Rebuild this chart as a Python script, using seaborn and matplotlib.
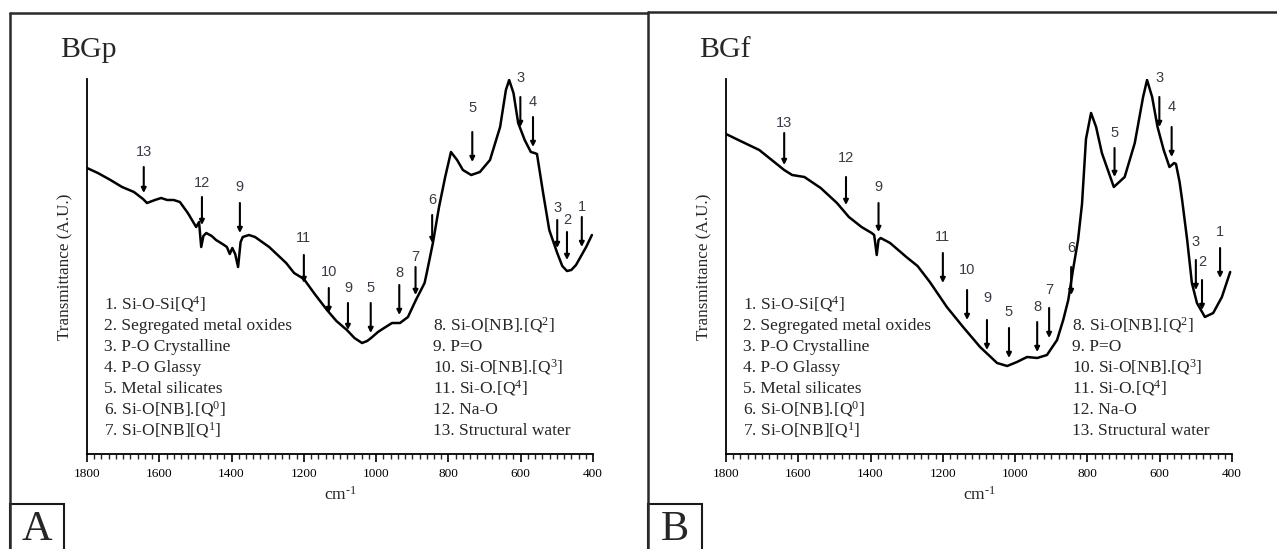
import numpy as np
import pandas as pd
import matplotlib
matplotlib.use("Agg")
import matplotlib.pyplot as plt
import seaborn as sns
from matplotlib.lines import Line2D
from matplotlib.patches import Rectangle

# ---------------- data ----------------
# Panel A (BGp) spectrum: wavenumber (cm-1) and transmittance (A.U.)
bgp_wn = [1800, 1770, 1735, 1703, 1670, 1645, 1634, 1612, 1595, 1578, 1560, 1543, 1521, 1498,
          1490, 1484, 1478, 1470, 1455, 1443, 1425, 1413, 1405, 1398, 1390, 1382, 1375, 1369,
          1352, 1335, 1296, 1249, 1227, 1200, 1170, 1136, 1110, 1081, 1060, 1039, 1025, 1014,
          995, 978, 956, 934, 912, 890, 866, 860, 843, 826, 809, 793, 776, 760, 737, 713, 685,
          657, 641, 632, 620, 607, 589, 572, 562, 555, 538, 521, 499, 485, 472, 460, 447, 419, 403]
bgp_t = [286, 281, 274, 267, 262, 255, 251, 254, 256, 254, 254, 252, 241, 227,
         232, 207, 218, 221, 218, 214, 210, 207, 200, 206, 200, 187, 212, 217,
         219, 217, 207, 191, 181, 175, 160, 144, 133, 124, 116, 111, 113, 116,
         122, 126, 131, 131, 137, 154, 171, 181, 211, 247, 277, 302, 294, 284, 279, 282, 294,
         327, 364, 374, 361, 331, 314, 302, 301, 300, 261, 224, 201, 188, 183, 184, 189, 207, 219]

# Panel B (BGf) spectrum
bgf_wn = [1800, 1760, 1708, 1670, 1639, 1617, 1583, 1538, 1493, 1460, 1425, 1397, 1390, 1383,
          1378, 1372, 1346, 1301, 1270, 1236, 1189, 1144, 1097, 1050, 1022, 995, 967, 939,
          912, 884, 867, 853, 840, 826, 815, 804, 790, 776, 760, 727, 697, 669, 646, 635, 621,
          606, 589, 573, 560, 555, 545, 538, 524, 511, 497, 475, 452, 428, 405]
bgf_t = [320, 313, 304, 293, 284, 279, 277, 266, 251, 237, 227, 221, 219, 199,
         214, 216, 211, 197, 188, 172, 147, 127, 107, 91, 88, 92, 97, 96,
         99, 114, 134, 154, 184, 214, 250, 315, 341, 327, 301, 267, 277, 311, 357, 374, 357,
         327, 304, 287, 291, 290, 272, 254, 214, 171, 151, 137, 141, 157, 182]

# Band assignment arrows: label, wavenumber, arrow top, arrow tip, label height (A.U.)
bgp_arrow_lbl = ["13", "12", "9", "11", "10", "9", "5", "8", "7", "6", "5", "3", "4", "3", "2", "1"]
bgp_arrow_wn = [1643, 1482, 1377, 1200, 1131, 1078, 1015, 936, 891, 845, 734, 601, 566, 499, 472, 431]
bgp_arrow_top = [287, 257, 251, 199, 166, 151, 151, 169, 187, 239, 322, 357, 337, 234, 222, 237]
bgp_arrow_tip = [261, 229, 221, 171, 141, 124, 121, 139, 159, 211, 292, 327, 307, 206, 194, 207]
bgp_arrow_ly = [302, 271, 267, 216, 182, 166, 166, 181, 197, 254, 346, 376, 352, 246, 234, 247]

bgf_arrow_lbl = ["13", "12", "9", "11", "10", "9", "5", "8", "7", "6", "5", "3", "4", "3", "2", "1"]
bgf_arrow_wn = [1639, 1468, 1378, 1200, 1133, 1078, 1017, 939, 906, 845, 725, 601, 567, 500, 483, 433]
bgf_arrow_top = [321, 277, 251, 201, 164, 134, 126, 132, 146, 187, 306, 357, 327, 194, 174, 206]
bgf_arrow_tip = [289, 249, 222, 171, 134, 104, 96, 102, 116, 159, 277, 327, 297, 164, 144, 176]
bgf_arrow_ly = [331, 296, 267, 217, 184, 156, 142, 147, 164, 206, 321, 376, 347, 212, 192, 222]

legend_left = ["1. Si-O-Si[Q$^{4}$]", "2. Segregated metal oxides", "3. P-O Crystalline",
               "4. P-O Glassy", "5. Metal silicates", "6. Si-O[NB].[Q$^{0}$]", "7. Si-O[NB][Q$^{1}$]"]
legend_right = ["8. Si-O[NB].[Q$^{2}$]", "9. P=O", "10. Si-O[NB].[Q$^{3}$]", "11. Si-O.[Q$^{4}$]",
                "12. Na-O", "13. Structural water"]

x_ticks = [1800, 1600, 1400, 1200, 1000, 800, 600, 400]
panel_titles = ["BGp", "BGf"]
panel_letters = ["A", "B"]

# ---------------- style ----------------
sns.set_style("ticks")
plt.rcParams["font.family"] = ["Liberation Serif", "DejaVu Serif"]
plt.rcParams["mathtext.default"] = "regular"

W, H = 1277, 549
fig = plt.figure(figsize=(W / 100, H / 100), dpi=100)
fig.patch.set_facecolor("white")


def fx(px):
    return px / W


def fy(py):
    return 1 - py / H


def draw_panel(x0, wn, t, alab, awn, atop, atip, aly, title, letter, frame_x, frame_y, frame_right):
    ax = fig.add_axes([fx(x0), fy(454), 506 / W, 375 / H])
    df = pd.DataFrame({"wn": wn, "t": t})
    sns.lineplot(data=df, x="wn", y="t", ax=ax, color="black", lw=1.8, sort=False)
    ax.set_xlim(1800, 400)
    ax.set_ylim(0, 375)
    for s in ["top", "right"]:
        ax.spines[s].set_visible(False)
    ax.spines["left"].set_linewidth(1.3)
    ax.spines["bottom"].set_linewidth(1.3)
    ax.spines["left"].set_color("black")
    ax.spines["bottom"].set_color("black")
    ax.set_yticks([])
    ax.set_xticks(x_ticks)
    ax.set_xticklabels([str(v) for v in x_ticks])
    ax.set_xticks(np.arange(400, 1801, 20), minor=True)
    ax.tick_params(axis="x", which="major", length=6, width=1.2, direction="out",
                   labelsize=9.5, pad=4, colors="black")
    ax.tick_params(axis="x", which="minor", length=3.5, width=1.0, direction="out")
    ax.set_xlabel("cm$^{\u2010" + "1}$", fontsize=12.5, labelpad=4)
    ax.set_ylabel("Transmittance (A.U.)", fontsize=12.3)
    ax.yaxis.set_label_coords(-0.027, 0.5)
    ax.set_facecolor("none")

    for lab, w, tp, tip, ly in zip(alab, awn, atop, atip, aly):
        ax.annotate("", xy=(w, tip), xytext=(w, tp),
                    arrowprops=dict(arrowstyle="-|>", lw=1.5, color="black",
                                    mutation_scale=7, shrinkA=0, shrinkB=0),
                    annotation_clip=False)
        ax.text(w, ly, lab, ha="center", va="center", fontsize=10.5,
                family=["Liberation Sans", "DejaVu Sans"], color="#3d3846", clip_on=False)

    # legend text blocks
    for i, s in enumerate(legend_left):
        fig.text(fx(x0 + 17), fy(309 + i * 21.0), s, ha="left", va="baseline", fontsize=12.5)
    for i, s in enumerate(legend_right):
        fig.text(fx(x0 + 346), fy(330 + i * 21.0), s, ha="left", va="baseline", fontsize=12.5)

    # panel title
    fig.text(fx(x0 - 27), fy(50), title, ha="left", va="center", fontsize=21.5)

    # outer frame
    fig.add_artist(Line2D([fx(frame_x), fx(frame_x)], [fy(frame_y), fy(H + 2)],
                          color="#2a2a2a", lw=1.8))
    fig.add_artist(Line2D([fx(frame_x), fx(frame_right)], [fy(frame_y), fy(frame_y)],
                          color="#2a2a2a", lw=1.8))
    # letter box
    fig.add_artist(Rectangle((fx(frame_x), fy(H + 2)), 54 / W, (H + 2 - 504) / H,
                             transform=fig.transFigure, fill=False, ec="#1a1a1a", lw=1.5))
    fig.text(fx(frame_x + 27), fy(548.5), letter, ha="center", va="bottom", fontsize=30.5)
    return ax


draw_panel(87, bgp_wn, bgp_t, bgp_arrow_lbl, bgp_arrow_wn, bgp_arrow_top, bgp_arrow_tip,
           bgp_arrow_ly, panel_titles[0], panel_letters[0], 10, 13, 648)
draw_panel(726, bgf_wn, bgf_t, bgf_arrow_lbl, bgf_arrow_wn, bgf_arrow_top, bgf_arrow_tip,
           bgf_arrow_ly, panel_titles[1], panel_letters[1], 648, 12, W + 2)

fig.savefig("out.png", dpi=100, facecolor="white")
